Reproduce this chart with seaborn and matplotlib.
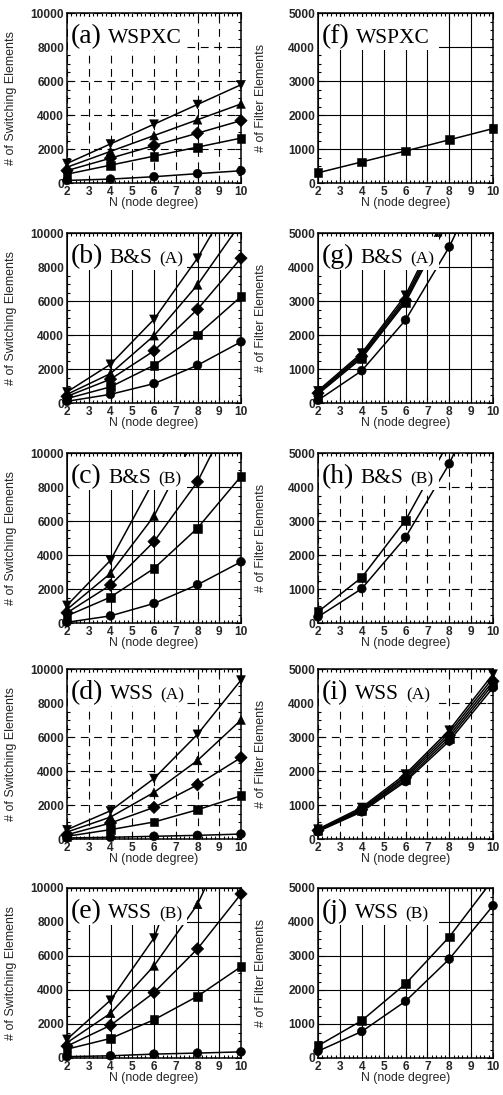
import numpy as np
import pandas as pd
import matplotlib
matplotlib.use("Agg")
import matplotlib.pyplot as plt
import seaborn as sns
from matplotlib.patches import Rectangle
from matplotlib.ticker import MultipleLocator
from matplotlib.offsetbox import TextArea, HPacker, AnchoredOffsetbox

# ---------------- data ----------------
N = [2, 4, 6, 8, 10]
MARKERS = {"circle": "o", "square": "s", "diamond": "D", "tri_up": "^", "tri_down": "v"}

# Number of switching elements (left column)
sw_wspxc = {
    "circle": [150, 230, 370, 550, 720],
    "square": [520, 1050, 1580, 2110, 2640],
    "diamond": [730, 1460, 2200, 2930, 3670],
    "tri_up": [930, 1860, 2790, 3720, 4650],
    "tri_down": [1150, 2300, 3460, 4620, 5780],
}
sw_bs_a = {
    "circle": [100, 510, 1140, 2220, 3600],
    "square": [260, 950, 2220, 4000, 6260],
    "diamond": [390, 1400, 3070, 5510, 8520],
    "tri_up": [510, 1730, 3960, 6950, 10600],
    "tri_down": [650, 2280, 4920, 8520, 12900],
}
sw_bs_b = {
    "circle": [40, 420, 1150, 2250, 3600],
    "square": [420, 1520, 3210, 5580, 8630],
    "diamond": [600, 2230, 4790, 8310, 13400],
    "tri_up": [800, 2920, 6290, 11200, 17500],
    "tri_down": [1040, 3690, 8400, 15000, 23500],
}
sw_wss_a = {
    "circle": [60, 100, 160, 215, 290],
    "square": [160, 550, 1000, 1720, 2540],
    "diamond": [250, 940, 1860, 3190, 4790],
    "tri_up": [410, 1290, 2740, 4620, 7000],
    "tri_down": [550, 1660, 3560, 6160, 9350],
}
sw_wss_b = {
    "circle": [80, 130, 230, 290, 360],
    "square": [520, 1150, 2250, 3630, 5370],
    "diamond": [700, 1920, 3850, 6420, 9650],
    "tri_up": [900, 2630, 5420, 9040, 14500],
    "tri_down": [1100, 3400, 7060, 14000, 23000],
}

# Number of filter elements (right column)
fl_wspxc = {
    "square": [300, 620, 940, 1270, 1600],
}
fl_bs_a = {
    "circle": [80, 950, 2440, 4590, 7300],
    "square": [260, 1320, 2960, 5400, 8400],
    "diamond": [290, 1370, 3020, 5500, 8550],
    "tri_up": [320, 1420, 3090, 5620, 8700],
    "tri_down": [360, 1470, 3170, 5750, 8900],
}
fl_bs_b = {
    "circle": [180, 1010, 2520, 4680, 7500],
    "square": [330, 1340, 3020, 5350, 8500],
}
fl_wss_a = {
    "circle": [220, 800, 1690, 2880, 4450],
    "square": [240, 830, 1740, 2960, 4550],
    "diamond": [250, 860, 1800, 3040, 4640],
    "tri_up": [270, 890, 1850, 3120, 4740],
    "tri_down": [290, 930, 1910, 3200, 4850],
}
fl_wss_b = {
    "circle": [200, 780, 1670, 2910, 4480],
    "square": [360, 1100, 2180, 3560, 5250],
}

x_ticks = [2, 3, 4, 5, 6, 7, 8, 9, 10]
sw_yticks = [0, 2000, 4000, 6000, 8000, 10000]
fl_yticks = [0, 1000, 2000, 3000, 4000, 5000]

# ---------------- style ----------------
sns.set_style("ticks")
plt.rcParams["font.family"] = ["Liberation Sans", "DejaVu Sans"]
SERIF = ["Liberation Serif", "DejaVu Serif"]

W, H = 503, 1095
fig = plt.figure(figsize=(W / 100, H / 100), dpi=100)

col_x = [(67, 174), (318, 175)]
row_top = [13, 233, 453, 669, 888]
AX_H = 170


def make_ax(col, row):
    x0, w = col_x[col]
    top = row_top[row]
    return fig.add_axes([x0 / W, 1 - (top + AX_H) / H, w / W, AX_H / H])


def draw(ax, data, yticks, dashed, tag, name, sub, ylabel):
    ymax = yticks[-1]
    rows = []
    for s, vals in data.items():
        for n, v in zip(N, vals):
            rows.append((s, n, v))
    df = pd.DataFrame(rows, columns=["series", "N", "value"])
    sns.lineplot(data=df, x="N", y="value", units="series", estimator=None,
                 color="black", lw=1.1, ax=ax, legend=False, zorder=3)
    vis = df[df["value"] <= ymax]
    sns.scatterplot(data=vis, x="N", y="value", style="series", markers=MARKERS,
                    color="black", s=40, edgecolor="black", linewidth=0.4,
                    ax=ax, legend=False, zorder=4)
    ax.collections[-1].set_clip_on(False)

    ax.set_xlim(2, 10)
    ax.set_ylim(0, ymax)
    ax.set_xticks(x_ticks)
    ax.set_xticklabels([str(t) for t in x_ticks], fontweight="bold", fontsize=8.6)
    ax.set_yticks(yticks)
    ax.set_yticklabels([str(t) for t in yticks], fontweight="bold", fontsize=8.6)
    ax.xaxis.set_minor_locator(MultipleLocator(0.2))
    ax.yaxis.set_minor_locator(MultipleLocator(yticks[1] / 4))
    ax.tick_params(which="both", direction="in", top=True, right=True,
                   color="black", width=0.8)
    ax.tick_params(which="major", length=4, pad=2)
    ax.tick_params(which="minor", length=2)

    ls = (0, (7, 5)) if dashed else "-"
    ax.grid(True, which="major", color="black", lw=0.8, ls=ls)
    ax.set_axisbelow(True)
    for sp in ax.spines.values():
        sp.set_linewidth(1.1)
        sp.set_color("black")
        sp.set_zorder(8)

    ax.set_xlabel("N (node degree)", fontsize=8.8)
    ax.set_ylabel(ylabel, fontsize=9)
    ax.xaxis.set_label_coords(0.5, -0.085)
    ax.yaxis.set_label_coords(-0.29, 0.5)

    # label box covering the grid
    ax.add_patch(Rectangle((0.004, 0.78), 0.686, 0.195, transform=ax.transAxes,
                           facecolor="white", edgecolor="none", zorder=5))
    parts = [TextArea(tag, textprops=dict(fontsize=20, family=SERIF, color="black")),
             TextArea(name, textprops=dict(fontsize=15.5, family=SERIF, color="black"))]
    if sub:
        parts.append(TextArea(sub, textprops=dict(fontsize=12.5, family=SERIF,
                                                   color="black")))
    pack = HPacker(children=parts, align="baseline", pad=0, sep=5)
    box = AnchoredOffsetbox(loc="upper left", child=pack, pad=0, borderpad=0,
                            frameon=False, bbox_to_anchor=(0.02, 0.935),
                            bbox_transform=ax.transAxes)
    box.set_zorder(7)
    ax.add_artist(box)


SW = "# of Switching Elements"
FL = "# of Filter Elements"

panels = [
    (0, 0, sw_wspxc, sw_yticks, True, "(a)", "WSPXC", None, SW),
    (0, 1, sw_bs_a, sw_yticks, False, "(b)", "B&S", "(A)", SW),
    (0, 2, sw_bs_b, sw_yticks, False, "(c)", "B&S", "(B)", SW),
    (0, 3, sw_wss_a, sw_yticks, True, "(d)", "WSS", "(A)", SW),
    (0, 4, sw_wss_b, sw_yticks, False, "(e)", "WSS", "(B)", SW),
    (1, 0, fl_wspxc, fl_yticks, False, "(f)", "WSPXC", None, FL),
    (1, 1, fl_bs_a, fl_yticks, False, "(g)", "B&S", "(A)", FL),
    (1, 2, fl_bs_b, fl_yticks, True, "(h)", "B&S", "(B)", FL),
    (1, 3, fl_wss_a, fl_yticks, True, "(i)", "WSS", "(A)", FL),
    (1, 4, fl_wss_b, fl_yticks, False, "(j)", "WSS", "(B)", FL),
]

for col, row, data, yt, dashed, tag, name, sub, yl in panels:
    ax = make_ax(col, row)
    draw(ax, data, yt, dashed, tag, name, sub, yl)

fig.savefig("out.png", dpi=100, facecolor="white")
